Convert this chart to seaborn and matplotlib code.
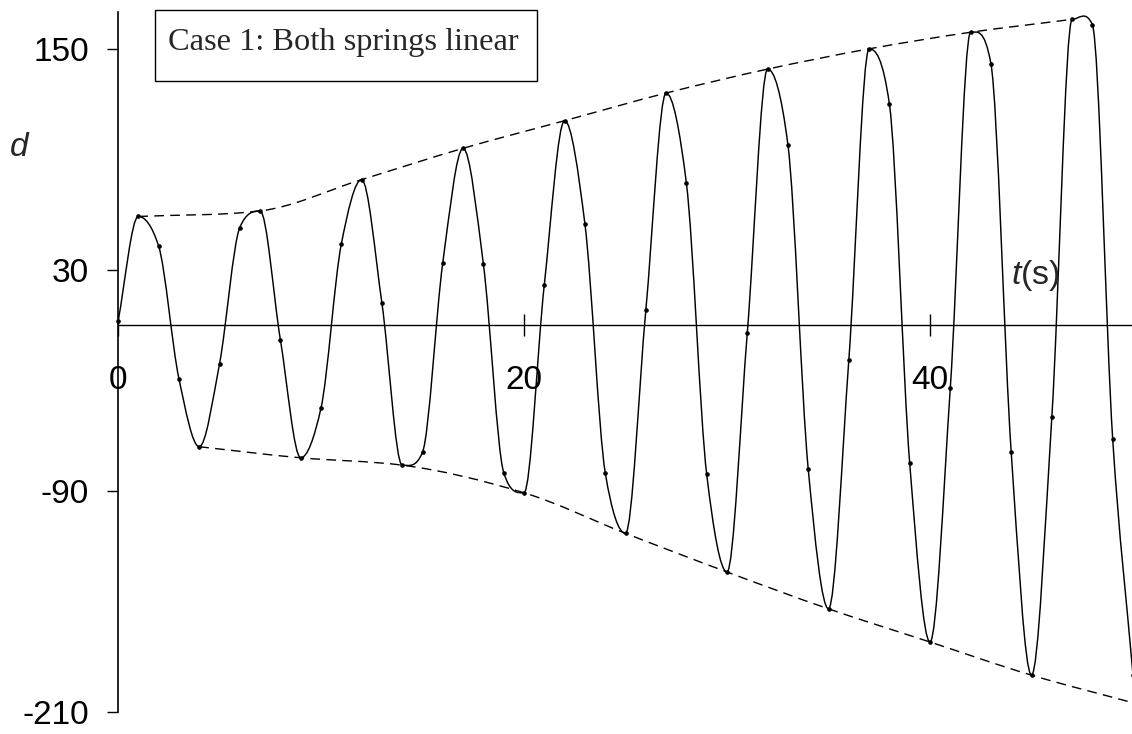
import numpy as np
import matplotlib
matplotlib.use("Agg")
import matplotlib.pyplot as plt
import seaborn as sns
from matplotlib.path import Path
from matplotlib.patches import PathPatch, Rectangle

# Displacement d sampled once per second
time_s = list(range(51))
displacement = [2, 59, 43, -29, -66, -21, 53, 62, -8, -72,
                -45, 44, 79, 12, -76, -69, 34, 96, 33, -80,
                -91, 22, 111, 55, -80, -113, 8, 126, 77, -81,
                -134, -4, 139, 98, -78, -154, -19, 150, 120, -75,
                -172, -34, 159, 142, -69, -190, -50, 166, 163, -62,
                -190]

# Upper and lower envelopes through the successive extremes
peak_t = [1, 7, 12, 17, 22, 27, 32, 37, 42, 47]
peak_d = [59, 62, 79, 96, 111, 126, 139, 150, 159, 166]
trough_t = [4, 9, 14, 20, 25, 30, 35, 40, 45, 50]
trough_d = [-66, -72, -76, -91, -113, -134, -154, -172, -190, -205]

y_ticks = [150, 30, -90, -210]
x_ticks = [0, 20, 40]
title_text = "Case 1: Both springs linear"

W, H = 1132, 734

sns.set_style("white")
plt.rcParams["font.family"] = ["Liberation Sans", "DejaVu Sans"]
plt.rcParams["mathtext.fontset"] = "custom"
plt.rcParams["mathtext.it"] = "Liberation Sans:italic"
plt.rcParams["mathtext.rm"] = "Liberation Sans"


def smooth_path(x, y):
    """Cubic Bezier path through the points, flat at local extremes."""
    x = np.asarray(x, float)
    y = np.asarray(y, float)
    h = np.diff(x)
    sec = np.diff(y) / h
    m = np.zeros_like(y)
    m[0], m[-1] = sec[0], sec[-1]
    for i in range(1, len(y) - 1):
        a, b = sec[i - 1], sec[i]
        if a * b > 0:
            m[i] = np.sign(a) * np.sqrt(a * b)
    verts = [(x[0], y[0])]
    codes = [Path.MOVETO]
    for i in range(len(x) - 1):
        d = h[i] / 3.0
        verts += [(x[i] + d, y[i] + m[i] * d),
                  (x[i + 1] - d, y[i + 1] - m[i + 1] * d),
                  (x[i + 1], y[i + 1])]
        codes += [Path.CURVE4] * 3
    return Path(verts, codes)


fig = plt.figure(figsize=(W / 100, H / 100), dpi=100)
ax = fig.add_axes([118 / W, (H - 712) / H, (W - 118) / W, 700 / H])
ax.set_xlim(0, 49.95)
ax.set_ylim(-210, 170)

# response curve and its sample points
ax.add_patch(PathPatch(smooth_path(time_s, displacement), facecolor="none",
                       edgecolor="black", lw=1.05, zorder=3))
sns.scatterplot(x=time_s, y=displacement, s=11, color="black",
                linewidth=0, ax=ax, zorder=4, clip_on=False)

# dashed envelopes
for tx, dy in ((peak_t, peak_d), (trough_t, trough_d)):
    ax.add_patch(PathPatch(smooth_path(tx, dy), facecolor="none",
                           edgecolor="black", lw=1.0,
                           linestyle=(0, (7, 4.5)), zorder=3))

# axes: vertical d axis on the left, t axis through d = 0
for side in ("top", "right"):
    ax.spines[side].set_visible(False)
ax.spines["left"].set_linewidth(1.2)
ax.spines["left"].set_color("black")
ax.spines["bottom"].set_position(("data", 0))
ax.spines["bottom"].set_linewidth(1.0)
ax.spines["bottom"].set_color("black")

ax.set_yticks(y_ticks)
ax.set_yticklabels([str(v) for v in y_ticks])
ax.set_xticks(x_ticks)
ax.set_xticklabels([str(v) for v in x_ticks])
ax.tick_params(axis="y", direction="out", length=8, width=1.0,
               labelsize=24, pad=13, colors="black", left=True)
ax.tick_params(axis="x", direction="inout", length=16, width=1.0,
               labelsize=24, pad=21, colors="black", bottom=True)
ax.set_xlabel("")
ax.set_ylabel("")

ax.text(45.2, 27, r"$t$(s)", fontsize=24.5, ha="center", va="center")
fig.text(19 / W, 1 - 147 / H, "d", fontsize=24, fontstyle="italic",
         ha="center", va="center")

# case label box
fig.add_artist(Rectangle((155 / W, 1 - 81 / H), (537 - 155) / W, 71 / H,
                         transform=fig.transFigure, fill=False,
                         edgecolor="black", lw=1.0, zorder=5))
fig.text(168 / W, 1 - 50 / H, title_text, fontsize=23.3,
         family=["Liberation Serif", "DejaVu Serif"],
         ha="left", va="baseline", zorder=6)

fig.savefig("out.png", dpi=100, facecolor="white")
